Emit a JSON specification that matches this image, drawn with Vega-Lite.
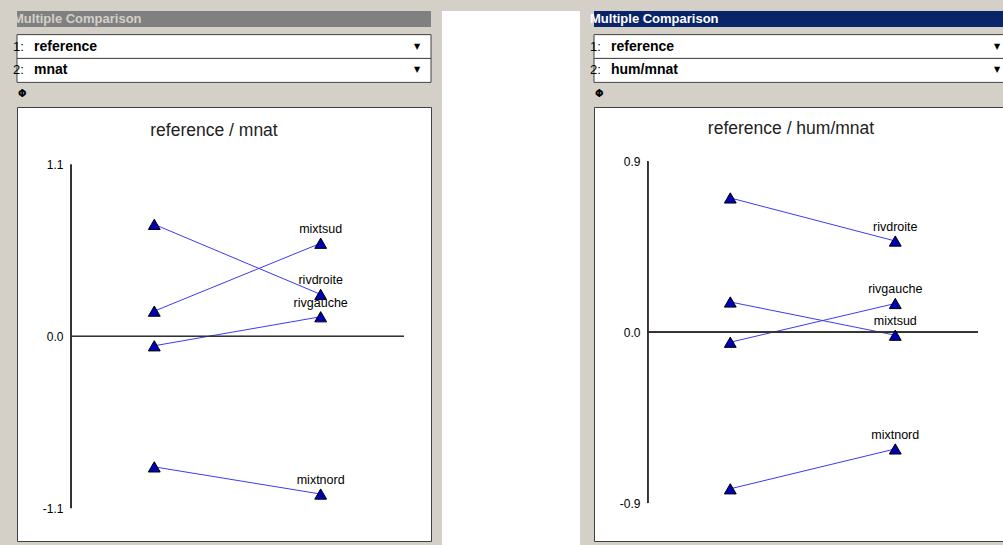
{
  "$schema": "https://vega.github.io/schema/vega-lite/v6.json",
  "background": "#d4d0c8",
  "padding": {"left": 13, "top": 10, "right": 0, "bottom": 0},
  "spacing": 10,
  "config": {
    "view": {"stroke": null},
    "font": "Liberation Sans",
    "text": {"font": "Liberation Sans"}
  },
  "datasets": {
    "leftData": [
      {"site": "rivdroite", "index": 1, "value": 0.718},
      {"site": "rivdroite", "index": 2, "value": 0.269},
      {"site": "mixtsud", "index": 1, "value": 0.162},
      {"site": "mixtsud", "index": 2, "value": 0.597},
      {"site": "rivgauche", "index": 1, "value": -0.06},
      {"site": "rivgauche", "index": 2, "value": 0.126},
      {"site": "mixtnord", "index": 1, "value": -0.836},
      {"site": "mixtnord", "index": 2, "value": -1.01}
    ],
    "rightData": [
      {"site": "rivdroite", "index": 1, "value": 0.707},
      {"site": "rivdroite", "index": 2, "value": 0.48},
      {"site": "mixtsud", "index": 1, "value": 0.159},
      {"site": "mixtsud", "index": 2, "value": -0.016},
      {"site": "rivgauche", "index": 1, "value": -0.053},
      {"site": "rivgauche", "index": 2, "value": 0.151},
      {"site": "mixtnord", "index": 1, "value": -0.825},
      {"site": "mixtnord", "index": 2, "value": -0.615}
    ],
    "leftHeader": [
      {"row": "title", "text": "Multiple Comparison"},
      {"row": "1:", "text": "reference"},
      {"row": "2:", "text": "mnat"},
      {"row": "icon", "text": "Φ"}
    ],
    "rightHeader": [
      {"row": "title", "text": "Multiple Comparison"},
      {"row": "1:", "text": "reference"},
      {"row": "2:", "text": "hum/mnat"},
      {"row": "icon", "text": "Φ"}
    ]
  },
  "hconcat": [
    {
      "spacing": 0,
      "vconcat": [
        {
          "width": 414,
          "height": 95,
          "data": {"name": "leftHeader"},
          "encoding": {
            "y": {"field": "row", "type": "nominal", "scale": {"domain": ["title", "1:", "2:", "icon"], "paddingInner": 0, "paddingOuter": 0}, "axis": null}
          },
          "layer": [
            {
              "transform": [{"filter": "datum.row == 'title'"}],
              "mark": {"type": "bar", "color": "#808080", "height": 16, "yOffset": -4},
              "encoding": {
                "x": {"datum": 0, "type": "quantitative", "scale": {"domain": [0, 1], "nice": false}, "axis": null},
                "x2": {"datum": 1}
              }
            },
            {
              "transform": [{"filter": "datum.row == '1:' || datum.row == '2:'"}],
              "mark": {"type": "bar", "fill": "white", "stroke": "#404040", "strokeWidth": 1, "height": 24},
              "encoding": {
                "x": {"datum": 0, "type": "quantitative"},
                "x2": {"datum": 1}
              }
            },
            {
              "transform": [{"filter": "datum.row == 'title'"}],
              "mark": {"type": "text", "align": "left", "baseline": "middle", "dx": -4, "yOffset": -4, "fontWeight": "bold", "fontSize": 13, "color": "#d4d0c8"},
              "encoding": {"x": {"datum": 0, "type": "quantitative"}, "text": {"field": "text"}}
            },
            {
              "transform": [{"filter": "datum.row == '1:' || datum.row == '2:'"}],
              "mark": {"type": "text", "align": "left", "baseline": "middle", "dx": -4, "fontSize": 13, "color": "#000"},
              "encoding": {"x": {"datum": 0, "type": "quantitative"}, "text": {"field": "row"}}
            },
            {
              "transform": [{"filter": "datum.row == '1:' || datum.row == '2:'"}],
              "mark": {"type": "text", "align": "left", "baseline": "middle", "dx": 17, "fontSize": 14, "fontWeight": "bold", "color": "#000"},
              "encoding": {"x": {"datum": 0, "type": "quantitative"}, "text": {"field": "text"}}
            },
            {
              "transform": [{"filter": "datum.row == '1:' || datum.row == '2:'"}],
              "mark": {"type": "text", "align": "center", "baseline": "middle", "dx": -14, "fontSize": 8, "color": "#000", "font": "DejaVu Sans"},
              "encoding": {"x": {"datum": 1, "type": "quantitative"}, "text": {"value": "▼"}}
            },
            {
              "transform": [{"filter": "datum.row == 'icon'"}],
              "mark": {"type": "text", "align": "left", "baseline": "middle", "dx": 1, "fontSize": 10, "fontWeight": "bold", "color": "#000", "font": "DejaVu Sans"},
              "encoding": {"x": {"datum": 0, "type": "quantitative"}, "text": {"field": "text"}}
            }
          ]
        },
        {
          "width": 414,
          "height": 434,
          "view": {"fill": "white", "stroke": "#404040", "strokeWidth": 1},
          "title": {"text": "reference / mnat", "fontSize": 17.5, "fontWeight": "normal", "color": "#222", "font": "Liberation Sans", "anchor": "middle", "baseline": "middle", "offset": 0, "dy": 41, "dx": -10},
          "data": {"name": "leftData"},
          "layer": [
            {
              "mark": {"type": "line", "color": "#3c3cf0", "strokeWidth": 1},
              "encoding": {
                "x": {"field": "index", "type": "quantitative", "scale": {"domain": [0.175, 2.663], "nice": false, "zero": false}, "axis": null},
                "y": {"field": "value", "type": "quantitative", "scale": {"domain": [-1.311, 1.47], "nice": false, "zero": false},
                  "axis": {"title": null, "offset": -54, "values": [-1.1, 0, 1.1], "labelExpr": "replace(format(datum.value, '.1f'), '−', '-')", "domain": false, "ticks": false, "tickSize": 0, "grid": false, "labelPadding": 8, "labelFontSize": 12, "labelColor": "#000", "labelFont": "Liberation Sans"}},
                "detail": {"field": "site"}
              }
            },
            {
              "mark": {"type": "rule", "stroke": "#333333", "strokeWidth": 1},
              "encoding": {"x": {"datum": 0.5, "type": "quantitative"}, "y": {"datum": -1.1, "type": "quantitative"}, "y2": {"datum": 1.1}}
            },
            {
              "mark": {"type": "rule", "stroke": "#333333", "strokeWidth": 1},
              "encoding": {"x": {"datum": 0.5, "type": "quantitative"}, "x2": {"datum": 2.5}, "y": {"datum": 0, "type": "quantitative"}}
            },
            {
              "mark": {"type": "point", "shape": "triangle-up", "filled": true, "fill": "#0000b4", "stroke": "#000", "strokeWidth": 1, "size": 140, "opacity": 1},
              "encoding": {"x": {"field": "index", "type": "quantitative"}, "y": {"field": "value", "type": "quantitative"}}
            },
            {
              "transform": [{"filter": "datum.index == 2"}],
              "mark": {"type": "text", "baseline": "alphabetic", "dy": -10, "fontSize": 12.5, "color": "#000"},
              "encoding": {"x": {"field": "index", "type": "quantitative"}, "y": {"field": "value", "type": "quantitative"}, "text": {"field": "site"}}
            }
          ]
        }
      ]
    },
    {
      "width": 138,
      "height": 535,
      "view": {"fill": "white", "stroke": null},
      "data": {"values": [{}]},
      "mark": {"type": "point", "opacity": 0},
      "encoding": {}
    },
    {
      "spacing": 0,
      "vconcat": [
        {
          "width": 410,
          "height": 95,
          "data": {"name": "rightHeader"},
          "encoding": {
            "y": {"field": "row", "type": "nominal", "scale": {"domain": ["title", "1:", "2:", "icon"], "paddingInner": 0, "paddingOuter": 0}, "axis": null}
          },
          "layer": [
            {
              "transform": [{"filter": "datum.row == 'title'"}],
              "mark": {"type": "bar", "color": "#0a246a", "height": 16, "yOffset": -4},
              "encoding": {
                "x": {"datum": 0, "type": "quantitative", "scale": {"domain": [0, 1], "nice": false}, "axis": null},
                "x2": {"datum": 1}
              }
            },
            {
              "transform": [{"filter": "datum.row == '1:' || datum.row == '2:'"}],
              "mark": {"type": "bar", "fill": "white", "stroke": "#404040", "strokeWidth": 1, "height": 24},
              "encoding": {
                "x": {"datum": 0, "type": "quantitative"},
                "x2": {"datum": 1}
              }
            },
            {
              "transform": [{"filter": "datum.row == 'title'"}],
              "mark": {"type": "text", "align": "left", "baseline": "middle", "dx": -4, "yOffset": -4, "fontWeight": "bold", "fontSize": 13, "color": "#ffffff"},
              "encoding": {"x": {"datum": 0, "type": "quantitative"}, "text": {"field": "text"}}
            },
            {
              "transform": [{"filter": "datum.row == '1:' || datum.row == '2:'"}],
              "mark": {"type": "text", "align": "left", "baseline": "middle", "dx": -4, "fontSize": 13, "color": "#000"},
              "encoding": {"x": {"datum": 0, "type": "quantitative"}, "text": {"field": "row"}}
            },
            {
              "transform": [{"filter": "datum.row == '1:' || datum.row == '2:'"}],
              "mark": {"type": "text", "align": "left", "baseline": "middle", "dx": 17, "fontSize": 14, "fontWeight": "bold", "color": "#000"},
              "encoding": {"x": {"datum": 0, "type": "quantitative"}, "text": {"field": "text"}}
            },
            {
              "transform": [{"filter": "datum.row == '1:' || datum.row == '2:'"}],
              "mark": {"type": "text", "align": "center", "baseline": "middle", "dx": -7, "fontSize": 8, "color": "#000", "font": "DejaVu Sans"},
              "encoding": {"x": {"datum": 1, "type": "quantitative"}, "text": {"value": "▼"}}
            },
            {
              "transform": [{"filter": "datum.row == 'icon'"}],
              "mark": {"type": "text", "align": "left", "baseline": "middle", "dx": 1, "fontSize": 10, "fontWeight": "bold", "color": "#000", "font": "DejaVu Sans"},
              "encoding": {"x": {"datum": 0, "type": "quantitative"}, "text": {"field": "text"}}
            }
          ]
        },
        {
          "width": 410,
          "height": 434,
          "view": {"fill": "white", "stroke": "#404040", "strokeWidth": 1},
          "title": {"text": "reference / hum/mnat", "fontSize": 17.5, "fontWeight": "normal", "color": "#222", "font": "Liberation Sans", "anchor": "middle", "baseline": "middle", "offset": 0, "dy": 39, "dx": -8},
          "data": {"name": "rightData"},
          "layer": [
            {
              "mark": {"type": "line", "color": "#3c3cf0", "strokeWidth": 1},
              "encoding": {
                "x": {"field": "index", "type": "quantitative", "scale": {"domain": [0.174, 2.659], "nice": false, "zero": false}, "axis": null},
                "y": {"field": "value", "type": "quantitative", "scale": {"domain": [-1.1, 1.186], "nice": false, "zero": false},
                  "axis": {"title": null, "offset": -54, "values": [-0.9, 0, 0.9], "labelExpr": "replace(format(datum.value, '.1f'), '−', '-')", "domain": false, "ticks": false, "tickSize": 0, "grid": false, "labelPadding": 8, "labelFontSize": 12, "labelColor": "#000", "labelFont": "Liberation Sans"}},
                "detail": {"field": "site"}
              }
            },
            {
              "mark": {"type": "rule", "stroke": "#333333", "strokeWidth": 1},
              "encoding": {"x": {"datum": 0.5, "type": "quantitative"}, "y": {"datum": -0.9, "type": "quantitative"}, "y2": {"datum": 0.9}}
            },
            {
              "mark": {"type": "rule", "stroke": "#333333", "strokeWidth": 1},
              "encoding": {"x": {"datum": 0.5, "type": "quantitative"}, "x2": {"datum": 2.5}, "y": {"datum": 0, "type": "quantitative"}}
            },
            {
              "mark": {"type": "point", "shape": "triangle-up", "filled": true, "fill": "#0000b4", "stroke": "#000", "strokeWidth": 1, "size": 140, "opacity": 1},
              "encoding": {"x": {"field": "index", "type": "quantitative"}, "y": {"field": "value", "type": "quantitative"}}
            },
            {
              "transform": [{"filter": "datum.index == 2"}],
              "mark": {"type": "text", "baseline": "alphabetic", "dy": -10, "fontSize": 12.5, "color": "#000"},
              "encoding": {"x": {"field": "index", "type": "quantitative"}, "y": {"field": "value", "type": "quantitative"}, "text": {"field": "site"}}
            }
          ]
        }
      ]
    }
  ]
}
